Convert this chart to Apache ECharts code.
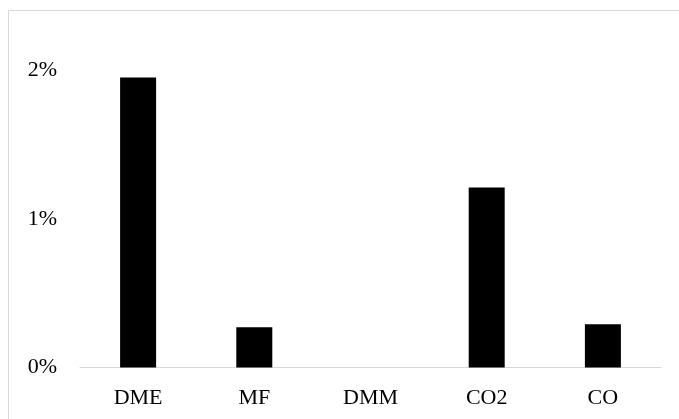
<!DOCTYPE html>
<html>
<head>
<meta charset="utf-8">
<script src="https://cdn.jsdelivr.net/npm/echarts@6/dist/echarts.min.js"></script>
<style>
html,body{margin:0;padding:0;background:#fff;}
#chart{width:679px;height:419px;}
</style>
</head>
<body>
<div id="chart"></div>
<script>
const categories = ['DME', 'MF', 'DMM', 'CO2', 'CO'];
const values = [1.95, 0.27, 0, 1.21, 0.29];
const yTicks = [0, 1, 2];

const FONT = "'Liberation Serif', 'Times New Roman', serif";
const chart = echarts.init(document.getElementById('chart'), null, {renderer: 'canvas'});
chart.setOption({
  animation: false,
  backgroundColor: '#fff',
  graphic: [{
    type: 'rect',
    shape: {x: 8.5, y: 10.5, width: 700, height: 430},
    style: {fill: 'none', stroke: '#d9d9d9', lineWidth: 1},
    silent: true
  }],
  grid: {left: 80, right: 18, top: 70, bottom: 51.5, containLabel: false},
  xAxis: {
    type: 'category',
    data: categories,
    axisLine: {show: true, lineStyle: {color: '#d9d9d9', width: 1}},
    axisTick: {show: false},
    axisLabel: {color: '#000', fontFamily: FONT, fontSize: 22, margin: 20}
  },
  yAxis: {
    type: 'value',
    min: yTicks[0],
    max: yTicks[yTicks.length - 1],
    interval: 1,
    axisLine: {show: false},
    axisTick: {show: false},
    splitLine: {show: false},
    axisLabel: {color: '#000', fontFamily: FONT, fontSize: 22, margin: 23,
      formatter: v => v + '%'}
  },
  series: [{
    type: 'bar',
    data: values,
    barWidth: 36,
    itemStyle: {color: '#000'}
  }]
});
</script>
</body>
</html>
